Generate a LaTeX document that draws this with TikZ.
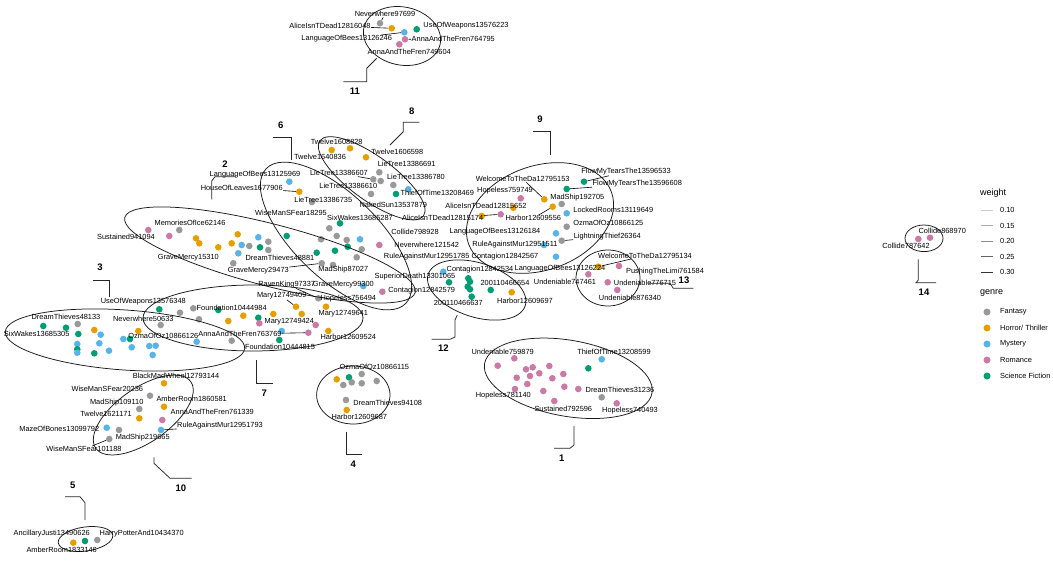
\documentclass[tikz,border=0pt]{standalone}
\usepackage{fontspec}
\setmainfont{Liberation Sans}
\pgfdeclarelayer{edges}
\pgfsetlayers{edges,main}
\definecolor{cfan}{HTML}{999999}
\definecolor{chor}{HTML}{E69F00}
\definecolor{cmys}{HTML}{56B4E9}
\definecolor{crom}{HTML}{CC79A7}
\definecolor{csci}{HTML}{009E73}
\tikzset{
 nd/.style={circle,inner sep=0pt,minimum size=6.6pt,draw=none},
 fan/.style={nd,fill=cfan}, hor/.style={nd,fill=chor}, mys/.style={nd,fill=cmys},
 rom/.style={nd,fill=crom}, sci/.style={nd,fill=csci},
 lbl/.style={inner sep=0.4pt,font=\fontsize{7.4}{8}\selectfont},
 cnum/.style={font=\bfseries\fontsize{9.5}{10}\selectfont,inner sep=0pt},
 ell/.style={draw=black!90,line width=0.75pt},
 brk/.style={draw=black!85,line width=0.75pt},
 lead/.style={draw=black,line width=0.6pt},
 wa/.style={draw=black!20,line width=0.6pt},
 wb/.style={draw=black!32,line width=0.6pt},
 wc/.style={draw=black!45,line width=0.6pt},
 wd/.style={draw=black!60,line width=0.65pt},
 we/.style={draw=black!80,line width=0.7pt},
 legt/.style={font=\fontsize{7.4}{8}\selectfont,anchor=west,inner sep=0pt},
 legh/.style={font=\fontsize{9}{10}\selectfont,anchor=west,inner sep=0pt}
}
\begin{document}
\begin{tikzpicture}[x=1pt,y=-1pt]
\fill[white] (0,0) rectangle (1053,565);
\useasboundingbox (0,0) rectangle (1053,565);
% ---------- nodes ----------
% cluster 11
\node[fan] (k1) at (380,23.3) {};
\node[hor] (k2) at (391.7,28.3) {};
\node[mys] (k3) at (404.3,32.3) {};
\node[sci] (k4) at (416.7,29.3) {};
\node[rom] (k5) at (405,39.3) {};
\node[rom] (k6) at (399.3,44.3) {};
% cluster 8
\node[hor] (e1) at (331.7,150) {};
\node[hor] (e2) at (350,148.3) {};
\node[hor] (e3) at (366,157.3) {};
\node[fan] (e4) at (379.3,172.3) {};
\node[fan] (e5) at (373.3,179.3) {};
\node[fan] (e6) at (380.7,181) {};
\node[fan] (e7) at (393.3,185) {};
\node[mys] (e8) at (408.3,189.3) {};
\node[fan] (e9) at (371,194) {};
\node[sci] (e10) at (396,194) {};
% cluster 2
\node[rom] (a1) at (148.3,230) {};
\node[rom] (a2) at (169.3,236) {};
\node[fan] (a3) at (179.3,230) {};
\node[hor] (a4) at (196,238.3) {};
\node[hor] (a5) at (199.3,243.3) {};
\node[hor] (a6) at (218.3,247.3) {};
\node[hor] (a7) at (231.7,243.3) {};
\node[hor] (a8) at (237.7,234.3) {};
\node[mys] (a9) at (241.7,245) {};
\node[mys] (a10) at (238.3,253.3) {};
\node[fan] (a11) at (249.3,246) {};
\node[mys] (a12) at (258.3,237.3) {};
\node[sci] (a13) at (260,247.3) {};
\node[fan] (a14) at (268.3,241.7) {};
\node[fan] (a15) at (268.3,250) {};
\node[sci] (a16) at (286.7,236) {};
% cluster 6
\node[mys] (b1) at (289.3,181.7) {};
\node[hor] (b2) at (299.3,191.7) {};
\node[fan] (b3) at (312,202) {};
\node[sci] (b4) at (340,223.3) {};
\node[fan] (b5) at (329.3,228.3) {};
\node[fan] (b6) at (321,239.3) {};
\node[fan] (b7) at (336.7,236) {};
\node[fan] (b8) at (346.7,240) {};
\node[mys] (b9) at (360,239.3) {};
\node[rom] (b10) at (379.3,245) {};
\node[sci] (b11) at (316.7,252.7) {};
\node[sci] (b12) at (335,250.7) {};
\node[sci] (b13) at (347.7,246.7) {};
\node[fan] (b14) at (361.7,249.3) {};
\node[fan] (b15) at (356.7,257.3) {};
\node[fan] (b16) at (333,265) {};
\node[fan] (b17) at (321.7,263.3) {};
\node[fan] (b18) at (318.3,298.3) {};
\node[mys] (b19) at (363.3,286) {};
\node[rom] (b20) at (382.3,291.7) {};
\node[fan] (b21) at (233.3,263.3) {};
% cluster 3
\node[sci] (c1) at (43.3,326) {};
\node[sci] (c2) at (66,327.7) {};
\node[fan] (c3) at (77.7,324) {};
\node[hor] (c4) at (94.3,330) {};
\node[sci] (c5) at (78.3,334) {};
\node[mys] (c6) at (100.7,334.7) {};
\node[hor] (c7) at (138.3,331) {};
\node[mys] (c8) at (123.3,339) {};
\node[sci] (c9) at (130,339) {};
\node[mys] (c10) at (77.3,344) {};
\node[mys] (c11) at (99.3,343.3) {};
\node[sci] (c12) at (77.3,349.3) {};
\node[mys] (c13) at (77.3,352.7) {};
\node[sci] (c14) at (94.3,353.3) {};
\node[mys] (c15) at (109,350.7) {};
\node[mys] (c16) at (131.7,347.3) {};
\node[mys] (c17) at (149.3,346) {};
\node[mys] (c18) at (155.7,345.7) {};
\node[mys] (c19) at (152.7,355) {};
% cluster 7
\node[sci] (g1) at (159.3,309.3) {};
\node[fan] (g2) at (180,312.7) {};
\node[fan] (g3) at (193.3,308.3) {};
\node[sci] (g4) at (218.3,310) {};
\node[fan] (g5) at (199,319.3) {};
\node[fan] (g6) at (160.7,325) {};
\node[hor] (g7) at (228.3,321) {};
\node[hor] (g8) at (243.3,315.7) {};
\node[sci] (g9) at (258.3,317.7) {};
\node[rom] (g10) at (259.3,323.3) {};
\node[hor] (g11) at (273.3,314) {};
\node[hor] (g12) at (296,306.7) {};
\node[hor] (g13) at (301.7,314) {};
\node[hor] (g14) at (326,306.7) {};
\node[rom] (g15) at (315.7,325) {};
\node[rom] (g16) at (308.3,332.7) {};
\node[hor] (g17) at (328.3,331) {};
\node[mys] (g18) at (281.7,331) {};
\node[sci] (g19) at (279.3,340) {};
\node[fan] (g20) at (231.7,340.7) {};
\node[mys] (g21) at (196.7,341.7) {};
% cluster 4
\node[hor] (d1) at (336.7,379.3) {};
\node[sci] (d2) at (349,377.3) {};
\node[fan] (d3) at (361.7,374) {};
\node[fan] (d4) at (343.3,385) {};
\node[fan] (d5) at (351.7,382.3) {};
\node[fan] (d6) at (361.7,383.3) {};
\node[fan] (d7) at (376.7,381) {};
\node[fan] (d8) at (346,400) {};
\node[hor] (d9) at (346.7,410) {};
% cluster 10
\node[hor] (j1) at (164,383.3) {};
\node[fan] (j2) at (150,395.7) {};
\node[hor] (j3) at (164,406.7) {};
\node[fan] (j4) at (139.3,409) {};
\node[hor] (j5) at (139.3,418.3) {};
\node[rom] (j6) at (162.3,420) {};
\node[mys] (j7) at (106.7,427.7) {};
\node[fan] (j8) at (119,430) {};
\node[mys] (j9) at (161,430) {};
\node[fan] (j10) at (109.3,439) {};
% cluster 5
\node[hor] (f1) at (73.3,542.7) {};
\node[sci] (f2) at (85,541) {};
\node[fan] (f3) at (97.3,540) {};
% cluster 1
\node[rom] (p1) at (514.3,358.3) {};
\node[rom] (p2) at (497.7,365.7) {};
\node[rom] (p3) at (526,369.3) {};
\node[rom] (p4) at (532.7,367.3) {};
\node[rom] (p5) at (549.3,366) {};
\node[rom] (p6) at (530,376) {};
\node[rom] (p7) at (539.3,373.3) {};
\node[rom] (p8) at (563.3,374) {};
\node[rom] (p9) at (552.3,378.3) {};
\node[sci] (p10) at (588.3,368.3) {};
\node[mys] (p11) at (601.7,359.3) {};
\node[rom] (p12) at (516.7,377.7) {};
\node[rom] (p13) at (527.3,384) {};
\node[rom] (p14) at (515,389) {};
\node[rom] (p15) at (564.3,386.7) {};
\node[rom] (p16) at (578.3,389) {};
\node[rom] (p17) at (543.3,391) {};
\node[rom] (p18) at (554.3,401) {};
\node[fan] (p19) at (601.7,397.3) {};
\node[rom] (p20) at (616.7,403.3) {};
% cluster 9
\node[sci] (n1) at (584,181.7) {};
\node[sci] (n2) at (566.7,189) {};
\node[rom] (n3) at (520.7,198.3) {};
\node[hor] (n4) at (544.3,199.3) {};
\node[fan] (n5) at (561.7,204) {};
\node[hor] (n6) at (552.7,206.7) {};
\node[hor] (n7) at (513.3,207.7) {};
\node[mys] (n8) at (566.7,213.3) {};
\node[rom] (n9) at (500.7,214.3) {};
\node[hor] (n10) at (481.7,216) {};
\node[fan] (n11) at (566.7,226.7) {};
\node[mys] (n12) at (556,233.3) {};
\node[fan] (n13) at (561.7,240.7) {};
\node[mys] (n14) at (544,245) {};
\node[mys] (n15) at (556,256.7) {};
% cluster 12
\node[mys] (l1) at (443.3,271.7) {};
\node[sci] (l2) at (449,282.3) {};
\node[sci] (l3) at (468.3,278.3) {};
\node[sci] (l4) at (470,281.7) {};
\node[sci] (l5) at (467.7,286.7) {};
\node[sci] (l6) at (470,289.3) {};
\node[sci] (l7) at (471.7,296.7) {};
\node[sci] (l8) at (490.7,290) {};
\node[hor] (l9) at (511.7,292.3) {};
% cluster 13
\node[hor] (m1) at (598.3,266.7) {};
\node[rom] (m2) at (619,266) {};
\node[rom] (m3) at (588.3,274.3) {};
\node[rom] (m4) at (607.7,282.3) {};
\node[rom] (m5) at (617.3,290) {};
% cluster 14
\node[rom] (q1) at (918.3,239) {};
\node[rom] (q2) at (930,237.7) {};
% ---------- edges ----------
\begin{pgfonlayer}{edges}
\foreach \u/\v in {e3/e4,j5/j3,m1/m2,a12/a16,b2/b3,
  c17/b6,c3/a6,c6/a5,g14/l1,g17/p2,g16/p12,d1/g5,d1/g21,p1/b10,p1/m5,n10/b9,c18/l2,j1/g21,b20/l2,a16/b6,e9/b8,l9/n15,g12/b15}
  \draw[wa] (\u) -- (\v);
\foreach \u/\v in {e5/e9,e7/e8,e8/e10,a2/a4,a8/a9,a13/a14,a15/a16,b3/b5,b16/b17,b15/b18,b9/b10,
  g2/g3,g13/g15,g3/g4,g21/g20,g16/g17,g6/g1,p8/p10,p2/p4,p3/p8,n11/n12,n13/n14,n3/n4,n6/n7,n2/n5,l2/l3,m1/m3,
  c7/b11,a3/g1,g8/b6,g11/b11,d3/b14,d3/l5,d7/l7,j2/g7,j4/g1,p1/l7,p3/l8,p11/n15,l1/n10,l3/n14,m3/l9,n10/b10,e10/b9,b19/l1}
  \draw[wb] (\u) -- (\v);
\foreach \u/\v in {k5/k6,e1/e2,e2/e3,e4/e5,e4/e6,e6/e7,a1/a2,a3/a4,a4/a5,a7/a8,a9/a10,a9/a11,a11/a12,a11/a13,a14/a15,
  b4/b5,b5/b6,b7/b8,b8/b9,b11/b12,b13/b14,b8/b13,b17/b18,b18/b19,b19/b20,b7/b16,
  c1/c2,c2/c3,c3/c4,c4/c6,c11/c10,c15/c16,c16/c17,c17/c19,c9/c16,c8/c7,c10/c12,c12/c13,c13/c14,c11/c14,c5/c6,c6/c8,
  g1/g2,g2/g5,g5/g7,g8/g9,g11/g13,g12/g13,g13/g14,g15/g16,g18/g19,g10/g9,
  d5/d6,d5/d3,d2/d5,d4/d8,d8/d9,d6/d7,j1/j2,j2/j4,j4/j5,j5/j8,j8/j7,j3/j6,j6/j9,f2/f3,
  p3/p4,p6/p13,p12/p13,p12/p14,p13/p17,p17/p18,p17/p15,p15/p16,p10/p11,p7/p8,p5/p7,
  n4/n5,n5/n6,n5/n8,n8/n11,n11/n13,n13/n15,n7/n9,n9/n10,l1/l3,l2/l5,l5/l7,l7/l8,l8/l9,l6/l8,m3/m4,l4/n12}
  \draw[wc] (\u) -- (\v);
\foreach \u/\v in {k1/k2,a5/a6,a6/a7,b5/b7,b6/b11,b12/b13,b14/b15,c6/c11,c11/c15,g9/g11,d4/d5,j8/j10,p1/p3,p4/p6,p4/p9,p9/p19}
  \draw[wd] (\u) -- (\v);
\foreach \u/\v in {k3/k5,e9/e10,c17/c18,c8/c9,g7/g8,g16/g18,d1/d4,f1/f2,p1/p12,p19/p20,l3/l4,l4/l6,m4/m5,q1/q2}
  \draw[we] (\u) -- (\v);
\draw[wa] (k2) -- (k3); \draw[wa] (k3) -- (k4);
\end{pgfonlayer}
% ---------- ellipses ----------
\draw[ell,rotate around={-12:(402,36)}] (402,36) ellipse [x radius=39pt,y radius=29pt];
\draw[ell,rotate around={-36:(371.7,178.3)}] (371.7,178.3) ellipse [x radius=64pt,y radius=22pt];
\draw[ell,rotate around={-44:(336,236)}] (336,236) ellipse [x radius=97pt,y radius=42pt];
\draw[ell,rotate around={-14.5:(270,255)}] (270,255) ellipse [x radius=150pt,y radius=31pt];
\draw[ell,rotate around={-4:(125,340)}] (125,340) ellipse [x radius=120pt,y radius=30pt];
\draw[ell] (253,318) ellipse [x radius=110pt,y radius=33pt];
\draw[ell,rotate around={35:(143.3,415)}] (143.3,415) ellipse [x radius=58pt,y radius=27pt];
\draw[ell,rotate around={8:(85.5,539)}] (85.5,539) ellipse [x radius=27.5pt,y radius=12pt];
\draw[ell] (353.3,395) ellipse [x radius=36.7pt,y radius=29pt];
\draw[ell,rotate around={-10:(568.3,378.3)}] (568.3,378.3) ellipse [x radius=85pt,y radius=38pt];
\draw[ell,rotate around={20:(540,218)}] (540,218) ellipse [x radius=76pt,y radius=52pt];
\draw[ell,rotate around={-18:(476.7,290)}] (476.7,290) ellipse [x radius=51pt,y radius=27pt];
\draw[ell] (608,278) ellipse [x radius=32pt,y radius=28pt];
\draw[ell] (924,238.3) ellipse [x radius=19pt,y radius=13.3pt];
% ---------- labels ----------
\node[lbl] (t1) at (385,14) {Neverwhere97699};
\node[lbl] (t2) at (330,25.7) {AliceIsnTDead12816048};
\node[lbl] (t3) at (466,25.7) {UseOfWeapons13576223};
\node[lbl] (t4) at (346.7,39) {LanguageOfBees13126246};
\node[lbl] (t5) at (453.3,39) {AnnaAndTheFren764795};
\node[lbl] (t6) at (409.3,52.3) {AnnaAndTheFren749604};
\node[lbl] (t7) at (336.7,141.7) {Twelve1608828};
\node[lbl] (t8) at (397.3,151.7) {Twelve1606598};
\node[lbl] (t9) at (320,157.3) {Twelve1640836};
\node[lbl] (t10) at (406.7,164) {LieTree13386691};
\node[lbl] (t11) at (339,173.3) {LieTree13386607};
\node[lbl] (t12) at (416,176.7) {LieTree13386780};
\node[lbl] (t13) at (348.3,185.7) {LieTree13386610};
\node[lbl] (t14) at (437.3,193.3) {ThiefOfTime13208469};
\node[lbl] (t15) at (393.3,205) {NakedSun13537879};
\node[lbl] (t16) at (323.3,200) {LieTree13386735};
\node[lbl] (t17) at (255,174.3) {LanguageOfBees13125969};
\node[lbl] (t18) at (241.7,187.7) {HouseOfLeaves1677906};
\node[lbl] (t19) at (291,213.3) {WiseManSFear18295};
\node[lbl] (t20) at (360,217.7) {SixWakes13685287};
\node[lbl] (t21) at (190,222.7) {MemoriesOfIce62146};
\node[lbl] (t22) at (126,237.3) {Sustained941094};
\node[lbl] (t23) at (188.3,257.7) {GraveMercy15310};
\node[lbl] (t24) at (280,258.3) {DreamThieves48881};
\node[lbl] (t25) at (258.3,270.7) {GraveMercy29473};
\node[lbl] (t26) at (343.3,269.3) {MadShip87027};
\node[lbl] (t27) at (286.7,284.3) {RavenKing97337};
\node[lbl] (t28) at (343.3,284.3) {GraveMercy99300};
\node[lbl] (t29) at (348.3,298.3) {Hopeless756494};
\node[lbl] (t30) at (626,171.7) {FlowMyTearsThe13596533};
\node[lbl] (t31) at (637.3,184) {FlowMyTearsThe13596608};
\node[lbl] (t32) at (522.7,179) {WelcomeToTheDa12795153};
\node[lbl] (t33) at (505,190.7) {Hopeless759749};
\node[lbl] (t34) at (577.3,197.3) {MadShip192705};
\node[lbl] (t35) at (486,205.7) {AliceIsnTDead12815652};
\node[lbl] (t36) at (613.3,210) {LockedRooms13119649};
\node[lbl] (t37) at (533.3,218.3) {Harbor12609556};
\node[lbl] (t38) at (442.7,218.3) {AliceIsnTDead12815174};
\node[lbl] (t39) at (608.3,223.3) {OzmaOfOz10866125};
\node[lbl] (t40) at (495,231.7) {LanguageOfBees13126184};
\node[lbl] (t41) at (415,231.7) {Collide798928};
\node[lbl] (t42) at (607.3,236.7) {LightningThief26364};
\node[lbl] (t43) at (515,245) {RuleAgainstMur12951511};
\node[lbl] (t44) at (426.7,245) {Neverwhere121542};
\node[lbl] (t45) at (426.7,256.7) {RuleAgainstMur12951785};
\node[lbl] (t46) at (505,256.7) {Contagion12842567};
\node[lbl] (t47) at (560,268.3) {LanguageOfBees13126224};
\node[lbl] (t48) at (565,281.7) {Undeniable747461};
\node[lbl] (t49) at (480,269.3) {Contagion12842534};
\node[lbl] (t50) at (415,276.7) {SuperiorDeath13301065};
\node[lbl] (t51) at (421.7,290.7) {Contagion12842579};
\node[lbl] (t52) at (505,282.7) {200110466654};
\node[lbl] (t53) at (525,300.7) {Harbor12609697};
\node[lbl] (t54) at (458.3,302.7) {200110466637};
\node[lbl] (t55) at (645,255.7) {WelcomeToTheDa12795134};
\node[lbl] (t56) at (665,271.7) {PushingTheLimi761584};
\node[lbl] (t57) at (645,283.3) {Undeniable776715};
\node[lbl] (t58) at (630,298.3) {Undeniable876340};
\node[lbl] (t59) at (942.3,231) {Collide868970};
\node[lbl] (t60) at (906,246) {Collide787642};
\node[lbl] (t61) at (502.7,352.3) {Undeniable759879};
\node[lbl] (t62) at (614,352.3) {ThiefOfTime13208599};
\node[lbl] (t63) at (620,390) {DreamThieves31236};
\node[lbl] (t64) at (503.3,396) {Hopeless781140};
\node[lbl] (t65) at (563.3,409.3) {Sustained792596};
\node[lbl] (t66) at (630,410.7) {Hopeless740493};
\node[lbl] (t67) at (374.3,367.3) {OzmaOfOz10866115};
\node[lbl] (t68) at (387.7,403.3) {DreamThieves94108};
\node[lbl] (t69) at (359.3,417.3) {Harbor12609687};
\node[lbl] (t70) at (176,376) {BlackMadWheel12793144};
\node[lbl] (t71) at (107.3,389.3) {WiseManSFear20236};
\node[lbl] (t72) at (191.7,399.3) {AmberRoom1860581};
\node[lbl] (t73) at (116.7,402.3) {MadShip109110};
\node[lbl] (t74) at (212.3,412.3) {AnnaAndTheFren761339};
\node[lbl] (t75) at (106,414.3) {Twelve1621171};
\node[lbl] (t76) at (220,426) {RuleAgainstMur12951793};
\node[lbl] (t77) at (59.3,429.3) {MazeOfBones13099792};
\node[lbl] (t78) at (142.7,437.7) {MadShip219665};
\node[lbl] (t79) at (84,449.3) {WiseManSFear101188};
\node[lbl] (t80) at (51.7,534) {AncillaryJusti13490626};
\node[lbl] (t81) at (141.7,533.3) {HarryPotterAnd10434370};
\node[lbl] (t82) at (61.7,550.3) {AmberRoom1833146};
\node[lbl] (t83) at (143.3,301.7) {UseOfWeapons13576348};
\node[lbl] (t84) at (66,316.7) {DreamThieves48133};
\node[lbl] (t85) at (143.3,319.3) {Neverwhere50633};
\node[lbl] (t86) at (36.7,334) {SixWakes13685305};
\node[lbl] (t87) at (163.3,336) {OzmaOfOz10866126};
\node[lbl] (t88) at (231.7,308.3) {Foundation10444984};
\node[lbl] (t89) at (281.7,296) {Mary12749409};
\node[lbl] (t90) at (343.3,314) {Mary12749641};
\node[lbl] (t91) at (289.3,321.7) {Mary12749424};
\node[lbl] (t92) at (240,334) {AnnaAndTheFren763769};
\node[lbl] (t93) at (348.3,336.7) {Harbor12609524};
\node[lbl] (t94) at (280,347.3) {Foundation10444815};
% leader lines
\foreach \a/\b in {t2/k2,t1/k1,t4/k3,t5/k5,t11/e5,t18/b2,t38/n9,t32/n4,t37/n6,t30/n1,t31/n2,t42/n13,t55/m1,
  t89/g12,t92/g16,t27/b18,t25/b17,t76/j9,t79/j10}
  \draw[lead] (\a) -- (\b);
% ---------- cluster numbers ----------
\draw[brk] (376.7,58.3) -- (366.7,68.3) -- (366.7,81.7) -- (343.3,81.7);
\node[cnum] (h11) at (355,91) {11};
\draw[brk] (390,145) -- (403.3,131.7) -- (403.3,122.3) -- (419.3,122.3);
\node[cnum] (h8) at (411.7,111) {8};
\draw[brk] (291.7,160) -- (291.7,137) -- (273.3,137);
\node[cnum] (h6) at (280.7,125) {6};
\draw[brk] (211.7,199.3) -- (211.7,181) -- (215,176.7) -- (236,176.7);
\node[cnum] (h2) at (225,164) {2};
\draw[brk] (550,155) -- (550,131.7) -- (532.7,131.7);
\node[cnum] (h9) at (540,119.3) {9};
\draw[brk] (109.3,296.7) -- (109.3,280) -- (92.7,280);
\node[cnum] (h3) at (100,267.3) {3};
\draw[brk] (256.7,360) -- (256.7,383.3) -- (272.7,383.3);
\node[cnum] (h7) at (264.3,393.3) {7};
\draw[brk] (457.3,315) -- (455,320) -- (455,337) -- (450,339.3) -- (431.7,339.3);
\node[cnum] (h12) at (443.3,348.3) {12};
\draw[brk] (648.3,283.3) -- (670,283.3) -- (673.3,288.3) -- (693.3,288.3);
\node[cnum] (h13) at (684,280.5) {13};
\draw[brk] (574,426) -- (574,445) -- (570,448.3) -- (554,448.3);
\node[cnum] (h1) at (561.7,458.3) {1};
\draw[brk] (346.7,431.7) -- (346.7,454) -- (361.7,454);
\node[cnum] (h4) at (353.3,464) {4};
\draw[brk] (154,457.3) -- (154,463.3) -- (170,478.3) -- (191.7,478.3);
\node[cnum] (h10) at (181,488.3) {10};
\draw[brk] (85,520) -- (85,502.7) -- (80,496.7) -- (65,496.7);
\node[cnum] (h5) at (72.7,485.7) {5};
\draw[brk] (918.3,259.3) -- (918.3,280) -- (916,282.7) -- (936,282.7);
\node[cnum] (h14) at (924,292.7) {14};
% ---------- legend ----------
\node[legh] (lw) at (980,192.7) {weight};
\foreach \y/\c/\t in {210/20/0.10,225.7/32/0.15,241/45/0.20,256.7/60/0.25,272.3/80/0.30}{
  \draw[draw=black!\c,line width=0.7pt] (981,\y) -- (993,\y);
  \node[legt] at (1000,\y) {\t};
}
\node[legh] (lg) at (980,292.7) {genre};
\foreach \y/\s/\t in {312/fan/{Fantasy},328/hor/{Horror/ Thriller},344/mys/{Mystery},360/rom/{Romance},376/sci/{Science Fiction}}{
  \node[\s,minimum size=7pt] at (987,\y) {};
  \node[legt] at (1000,\y) {\t};
}
\end{tikzpicture}
\end{document}
